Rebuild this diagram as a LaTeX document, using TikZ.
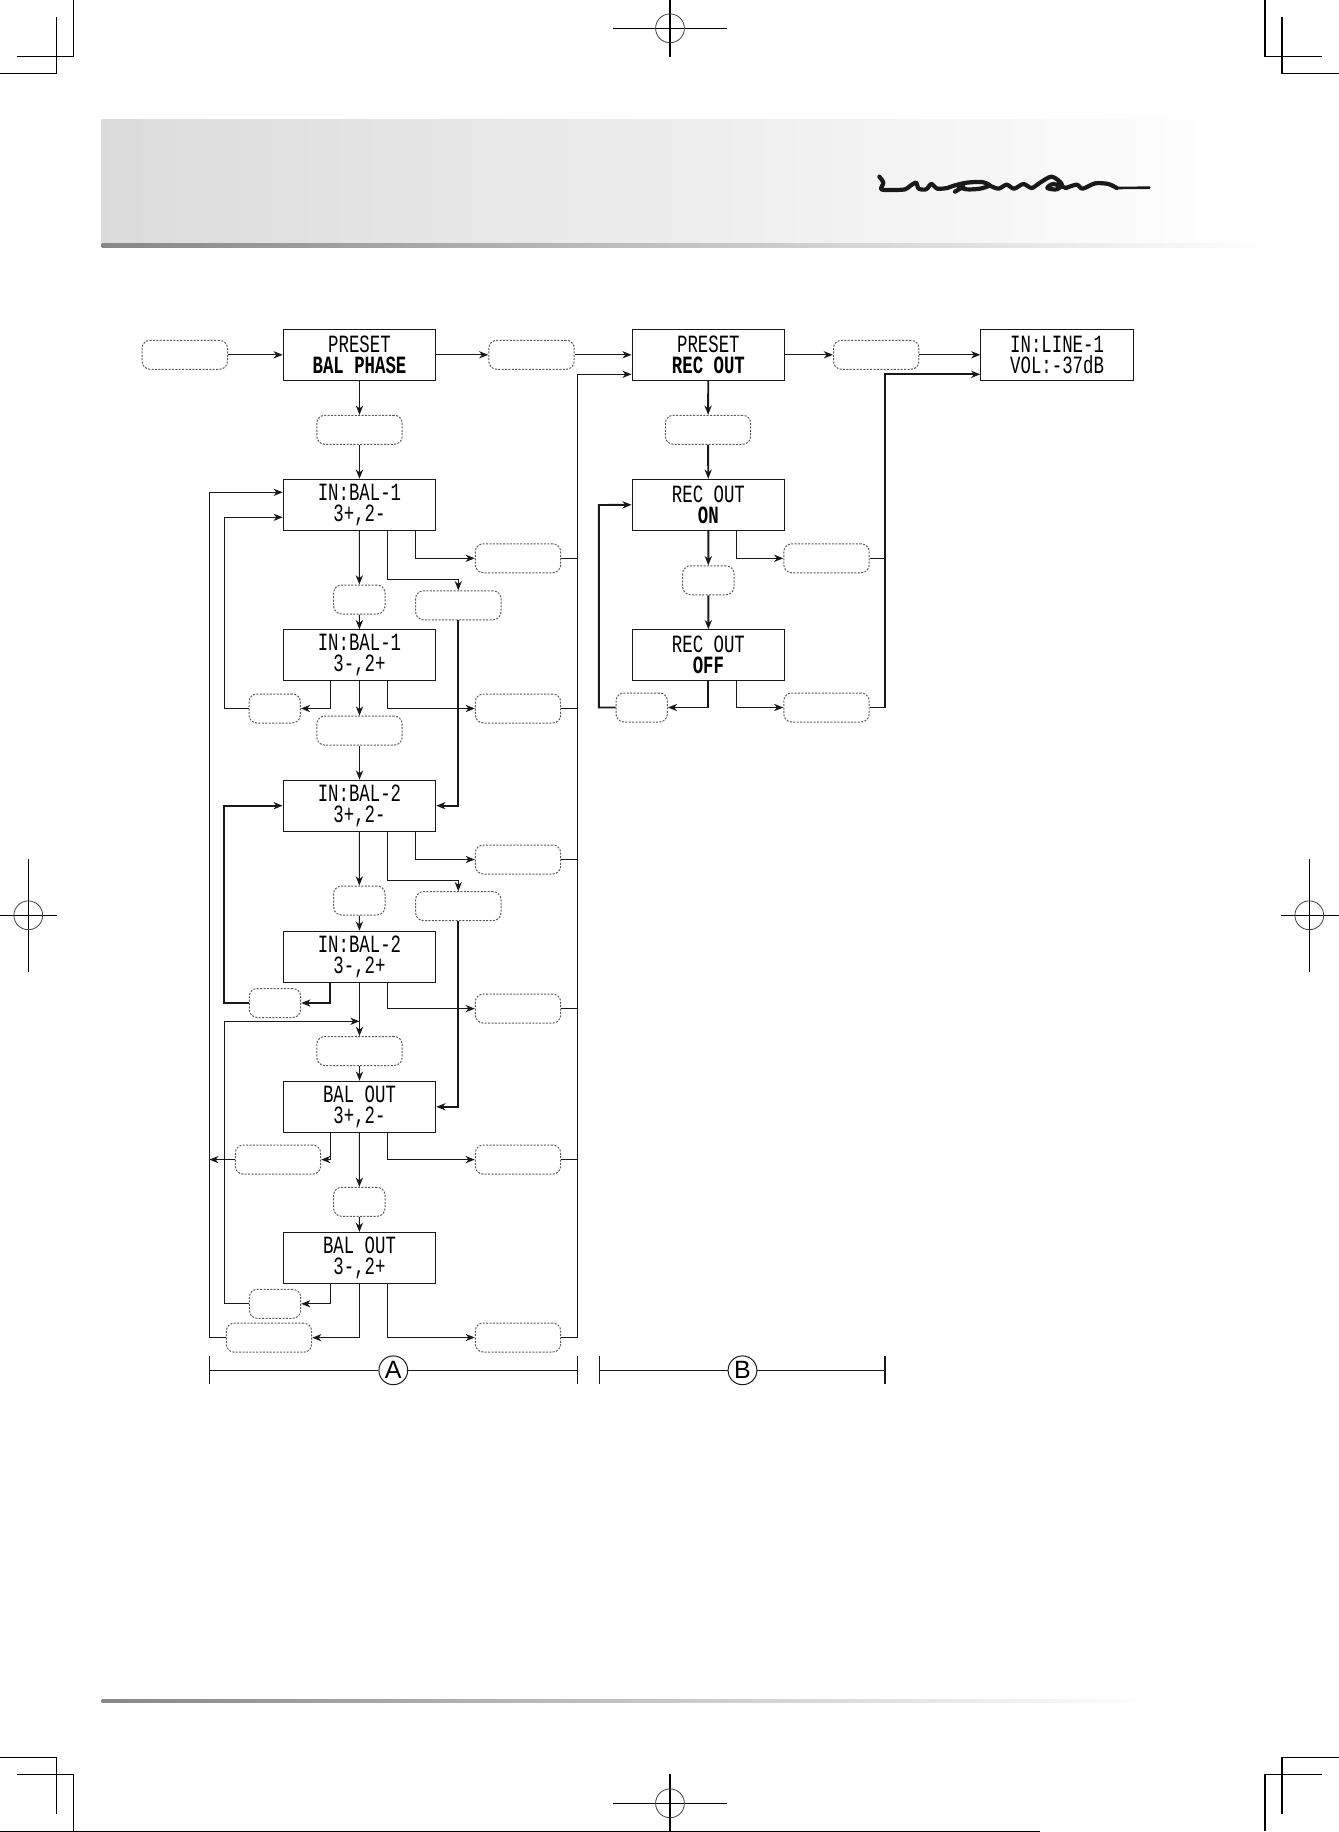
\documentclass[tikz,border=0pt]{standalone}
\usepackage{fontspec}
\setsansfont{Liberation Sans}
\newfontfamily\lcdfont[FakeStretch=0.70]{Liberation Mono}
\usetikzlibrary{arrows.meta}
\NewDocumentCommand{\lcd}{m m}{{\lcdfont #1}\\{\lcdfont #2}}
\NewDocumentCommand{\lcdon}{m m}{{\lcdfont #1}\\{\lcdfont\bfseries #2}}
\tikzset{/LX/lcd/.style={
	shape=rectangle, draw=black!90, line width=.55pt, inner sep=0pt, align=center,
	minimum width=76.2pt, minimum height=25.5pt, font=\fontsize{12.4}{10.5}\selectfont
}}
\tikzset{/LX/key/.style={
	shape=rectangle, rounded corners=4pt, draw=black!65, line width=.5pt,
	dash pattern=on 1pt off .7pt, inner sep=0pt, minimum height=14.5pt
}}
\tikzset{/LX/keyw/.style={/LX/key, minimum width=42.7pt}}
\tikzset{/LX/keys/.style={/LX/key, minimum width=25.7pt}}
\tikzset{/LX/flow/.style={
	draw=black!90, line width=.55pt, -{Stealth[length=4.6pt,width=3.6pt,inset=1.4pt]}
}}
\tikzset{/LX/wire/.style={draw=black!90, line width=.55pt}}
\tikzset{/LX/heavy/.style={line width=.95pt}}
\tikzset{/LX/mark/.style={draw=black, line width=.6pt}}
\tikzset{/LX/tag/.style={
	shape=circle, draw=black!90, line width=.5pt, inner sep=0pt, minimum size=14.4pt,
	font=\sffamily\fontsize{12.5}{12.5}\selectfont
}}

\begin{document}
\begin{tikzpicture}[x=.5pt,y=-.5pt]
	\useasboundingbox (0,0) rectangle (1339,1832);
	\shade[left color=black!14, right color=black!5] (101.7,119) rectangle (855,244);
	\shade[left color=black!5, right color=white] (855,119) rectangle (1240,244);
	\shade[left color=black!47, right color=white] (101.7,243.7) rectangle (1265,247);
	\shade[left color=black!47, right color=white] (101.7,1699) rectangle (1145,1702.3);
	\begin{scope}[shift={(860,160)}, x=.1667pt, y=-.1667pt, draw=black!90, line width=2.1pt, line cap=round, line join=round]
		\draw plot[smooth] coordinates {(58,50) (70,68) (64,88) (100,90) (135,88) (150,78) (168,68) (176,86) (198,88) (214,72) (232,86) (262,84)};
		\draw plot[smooth] coordinates {(262,84) (285,76) (320,68) (365,66) (388,76) (360,86) (320,88) (296,80)};
		\draw plot[smooth] coordinates {(310,80) (285,95)};
		\draw plot[smooth] coordinates {(388,76) (415,86) (440,74) (462,86) (490,72) (515,84) (540,68) (575,50) (605,72) (590,88) (562,84) (580,72) (618,84)};
		\draw plot[smooth] coordinates {(618,84) (650,74) (668,86) (705,70) (745,72) (770,84)};
		\draw[line width=1.3pt] (770,84) -- (868,83);
	\end{scope}
	\foreach \x/\y in {73.5/0, 56.4/17, 1265/0, 1282/17} \draw[/LX/mark] (\x,\y) -- (\x,\y+56.5);
	\draw[/LX/mark] (17,56.7) -- (73.5,56.7) (0,73.3) -- (56.4,73.3) (1265,56.7) -- (1322,56.7) (1282,73.3) -- (1339,73.3);
	\foreach \x/\y in {56.4/1757.3, 73.5/1774.3, 1282/1757.3, 1265/1774.3} \draw[/LX/mark] (\x,\y) -- (\x,{\y+57});
	\draw[/LX/mark] (0,1757.3) -- (56.4,1757.3) (17,1774.3) -- (73.5,1774.3) (1282,1757.3) -- (1339,1757.3) (1265,1774.3) -- (1322,1774.3);
	\draw[/LX/mark] (0,1831.3) -- (1040,1831.3);
	\foreach \x/\y/\lo/\hi/\lf/\rt in {670/28.3/0/56.7/613/726.5, 670/1803.3/1774/1832/613/726.5, 28.3/915.3/859/971.7/0/57, 1309.3/915.3/859/971.7/1281/1339} {
		\draw[/LX/mark] (\x,\lo) -- (\x,\hi) (\lf,\y) -- (\rt,\y);
		\draw[black!75, line width=.4pt] (\x,\y) circle[radius=7.2pt];
	}
	\path (359.5,354.8) node[/LX/lcd] (preA) {\lcdon{PRESET}{BAL PHASE}};
	\path (preA.center) ++ (0,150) node[/LX/lcd] (balA) {\lcd{IN:BAL-1}{3+,2-}};
	\path (preA.center) ++ (0,300.5) node[/LX/lcd] (balB) {\lcd{IN:BAL-1}{3-,2+}};
	\path (preA.center) ++ (0,450.9) node[/LX/lcd] (balC) {\lcd{IN:BAL-2}{3+,2-}};
	\path (preA.center) ++ (0,601.9) node[/LX/lcd] (balD) {\lcd{IN:BAL-2}{3-,2+}};
	\path (preA.center) ++ (0,752) node[/LX/lcd] (balE) {\lcd{BAL OUT}{3+,2-}};
	\path (preA.center) ++ (0,903.2) node[/LX/lcd] (balF) {\lcd{BAL OUT}{3-,2+}};
	\path (708.4,354.8) node[/LX/lcd] (preB) {\lcdon{PRESET}{REC OUT}};
	\path (preB.center) ++ (0,150) node[/LX/lcd] (recA) {\lcdon{REC OUT}{ON}};
	\path (preB.center) ++ (0,300.5) node[/LX/lcd] (recB) {\lcdon{REC OUT}{OFF}};
	\path (1057.1,354.8) node[/LX/lcd] (line) {\lcd{IN:LINE-1}{VOL:-37dB}};
	\path (184.8,354.8) node[/LX/keyw] (kstart) {};
	\path (531.5,354.8) node[/LX/keyw] (kpre) {};
	\path (359.5,429.8) node[/LX/keyw] (ka) {};
	\path (359.3,599.5) node[/LX/keys] (kb) {};
	\path (458.3,605.3) node[/LX/keyw] (kc) {};
	\path (359.5,730.6) node[/LX/keyw] (kd) {};
	\path (359.3,900.5) node[/LX/keys] (ke) {};
	\path (458.3,906.2) node[/LX/keyw] (kf) {};
	\path (359.5,1051) node[/LX/keyw] (kg) {};
	\path (359.3,1201.8) node[/LX/keys] (kh) {};
	\path (518,558.3) node[/LX/keyw] (ra) {};
	\path (518,708.5) node[/LX/keyw] (rb) {};
	\path (518,859.5) node[/LX/keyw] (rc) {};
	\path (518,1008.6) node[/LX/keyw] (rd) {};
	\path (518,1159.6) node[/LX/keyw] (re) {};
	\path (518,1337.5) node[/LX/keyw] (rf) {};
	\path (274.7,708.5) node[/LX/keys] (la) {};
	\path (275,1003) node[/LX/keys] (lb) {};
	\path (278,1159.6) node[/LX/keyw] (lc) {};
	\path (275,1303.8) node[/LX/keys] (ld) {};
	\path (269,1337.7) node[/LX/keyw] (le) {};
	\path (876.2,354.8) node[/LX/keyw] (kout) {};
	\path (708,429.8) node[/LX/keyw] (kq) {};
	\path (708.3,580.3) node[/LX/keys] (ks) {};
	\path (826.5,558.3) node[/LX/keyw] (rp) {};
	\path (826.5,707.5) node[/LX/keyw] (rq) {};
	\path (641.7,707.5) node[/LX/keys] (lp) {};
	\coordinate (busA) at (577.3,374.3);
	\coordinate (busB) at (885,374.3);
	\coordinate (outA) at (209.3,492.3);
	\coordinate (inA) at (224.3,517.3);
	\coordinate (inC) at (224.3,805.7);
	\coordinate (inE) at (224.3,1021.3);
	\coordinate (inB) at (598.9,505);
	\draw[/LX/flow] (kstart) -- (preA);
	\draw[/LX/flow] (preA) -- (kpre);
	\draw[/LX/flow] (kpre) -- (preB);
	\draw[/LX/flow] (preA) -- (ka);
	\draw[/LX/flow] (ka) -- (balA);
	\draw[/LX/flow] (balA) -- (kb);
	\draw[/LX/flow] (kb) -- (balB);
	\draw[/LX/flow] (balB) -- (kd);
	\draw[/LX/flow] (kd) -- (balC);
	\draw[/LX/flow] (balC) -- (ke);
	\draw[/LX/flow] (ke) -- (balD);
	\draw[/LX/flow] (balD) -- (kg);
	\draw[/LX/flow] (kg) -- (balE);
	\draw[/LX/flow] (balE) -- (kh);
	\draw[/LX/flow] (kh) -- (balF);
	\draw[/LX/flow] ([xshift=14.1pt]balA.south) -- ++(0,49) -| (kc.north);
	\draw[/LX/flow] ([xshift=14.1pt]balC.south) -- ++(0,49) -| (kf.north);
	\draw[/LX/flow, /LX/heavy] (kc.south) |- (balC.east);
	\draw[/LX/flow, /LX/heavy] (kf.south) |- (balE.east);
	\draw[/LX/flow] ([xshift=28pt]balA.south) |- (ra.west);
	\draw[/LX/flow] ([xshift=14.1pt]balB.south) |- (rb.west);
	\draw[/LX/flow] ([xshift=28pt]balC.south) |- (rc.west);
	\draw[/LX/flow] ([xshift=14.1pt]balD.south) |- (rd.west);
	\draw[/LX/flow] ([xshift=14.1pt]balE.south) |- (re.west);
	\draw[/LX/flow] ([xshift=14.1pt]balF.south) |- (rf.west);
	\draw[/LX/flow] ([xshift=-14.6pt]balB.south) |- (la.east);
	\draw[/LX/flow, /LX/heavy] ([xshift=-14.6pt]balD.south) |- (lb.east);
	\draw[/LX/flow] ([xshift=-14.6pt]balE.south) |- (lc.east);
	\draw[/LX/flow] ([xshift=-14.6pt]balF.south) |- (ld.east);
	\draw[/LX/flow] (balF.south) |- (le.east);
	\draw[/LX/flow] (la.west) -| (inA) -- (inA -| balA.west);
	\draw[/LX/flow, /LX/heavy] (lb.west) -| (inC) -- (balC.west);
	\draw[/LX/flow] (ld.west) -| (inE) -- (inE -| kg.north);
	\draw[/LX/flow] (le.west) -| (outA) -- (outA -| balA.west);
	\draw[/LX/flow] (lc.west) -- (lc.west -| outA);
	\draw[/LX/flow] (rf.east) -| (busA) -- (busA -| preB.west);
	\foreach \k in {ra,rb,rc,rd,re} \draw[/LX/wire] (\k.east) -- (\k.east -| busA);
	\draw[/LX/flow] (preB) -- (kout);
	\draw[/LX/flow] (kout) -- (line);
	\draw[/LX/flow, /LX/heavy] (preB) -- (kq);
	\draw[/LX/flow, /LX/heavy] (kq) -- (recA);
	\draw[/LX/flow, /LX/heavy] (recA) -- (ks);
	\draw[/LX/flow, /LX/heavy] (ks) -- (recB);
	\draw[/LX/flow] ([xshift=14.1pt]recA.south) |- (rp.west);
	\draw[/LX/flow] ([xshift=14.1pt]recB.south) |- (rq.west);
	\draw[/LX/flow, /LX/heavy] (recB.south) |- (lp.east);
	\draw[/LX/flow, /LX/heavy] (lp.west) -| (inB) -- (recA.west);
	\draw[/LX/wire] (rp.east) -- (rp.east -| busB);
	\draw[/LX/flow, /LX/heavy] (rq.east) -| (busB) -- (busB -| line.west);
	\path (393.3,1370.3) node[/LX/tag] (tagA) {A};
	\path (742.5,1370.3) node[/LX/tag] (tagB) {B};
	\coordinate (endA) at (209.3,1370.3);
	\coordinate (endB) at (577.3,1370.3);
	\coordinate (endC) at (599.3,1370.3);
	\coordinate (endD) at (885,1370.3);
	\draw[/LX/wire] (endA) -- (tagA) -- (endB);
	\draw[/LX/wire] (endC) -- (tagB) -- (endD);
	\foreach \e in {endA,endB,endC,endD} \draw[/LX/wire] ([yshift=7pt]\e) -- ([yshift=-7pt]\e);
\end{tikzpicture}
\end{document}
